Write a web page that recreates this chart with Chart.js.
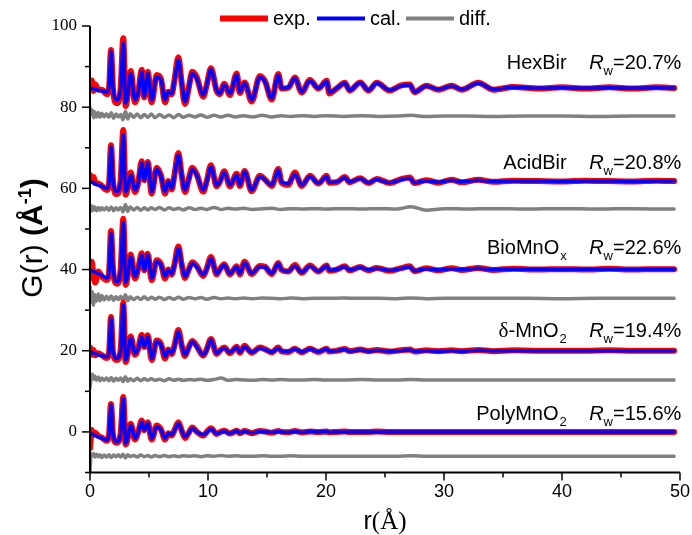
<!DOCTYPE html>
<html>
<head>
<meta charset="utf-8">
<title>PDF fits</title>
<script src="https://cdn.jsdelivr.net/npm/chart.js@4.4.1/dist/chart.umd.min.js"></script>
<style>
  body { margin: 0; background: #fff; }
  #pdfChart { display: block; }
</style>
</head>
<body>
<canvas id="pdfChart" width="692" height="535"></canvas>
<script>
// r grid (Å) shared by exp. and cal. curves
const rFit = [0, 0.15, 0.3, 0.45, 0.7, 1.0, 1.41, 1.62, 1.78, 1.95,
    2.26, 2.6, 2.82, 3.02, 3.22, 3.45, 3.81, 4.1, 4.38, 4.6,
    4.89, 5.23, 5.65, 6.02, 6.36, 6.64, 6.92, 7.15, 7.49, 7.75,
    8.05, 8.35, 8.67, 9.04, 9.6, 9.9, 10.25, 10.73, 11.0, 11.38,
    11.86, 12.43, 12.7, 13.1, 13.7, 14.4, 14.83, 15.4, 15.96, 16.24,
    16.8, 17.37, 17.94, 18.64, 19.35, 20.06, 20.28, 20.9, 21.6, 22.0,
    22.9, 23.6, 24.3, 25.4, 26.3, 27.1, 27.5, 28.5, 29.5, 30.65,
    31.5, 32.9, 34.2, 35.9, 38, 40, 42, 44, 46, 48,
    49.5];

// r grid (Å) shared by the difference curves
const rDiff = [0, 0.1, 0.2, 0.3, 0.4, 0.55, 0.7, 0.85, 1.0, 1.2,
    1.4, 1.6, 1.8, 2.0, 2.2, 2.4, 2.6, 2.8, 3.0, 3.2,
    3.4, 3.7, 4.0, 4.3, 4.6, 4.9, 5.2, 5.5, 5.9, 6.3,
    6.7, 7.1, 7.5, 7.9, 8.4, 8.9, 9.4, 9.9, 10.5, 11.1,
    11.7, 12.3, 13, 13.8, 14.6, 15.4, 16.2, 17.0, 18, 19,
    20, 21.5, 23, 24.5, 26, 27.2, 28.5, 30, 32, 34,
    37, 40, 43, 46, 49.5];

// HexBir (plotted with offset)
const hexExp = [85.6, 86.6, 84.0, 85.6, 84.3, 84.3, 83.2, 85.0, 94.1, 84.5,
    81.0, 84.8, 97.0, 80.3, 83.5, 88.9, 81.2, 83.8, 89.2, 82.4,
    88.7, 81.2, 87.9, 86.9, 81.2, 83.8, 83.2, 86.5, 92.3, 86.5,
    80.8, 84.5, 88.7, 87.4, 82.6, 85.6, 89.6, 84.0, 83.2, 85.8,
    83.0, 88.3, 83.5, 86.1, 81.4, 87.7, 86.4, 81.9, 88.2, 84.6,
    84.8, 87.3, 83.6, 86.7, 84.6, 86.5, 83.4, 84.6, 86.0, 84.1,
    86.1, 84.1, 86.0, 84.1, 85.3, 85.6, 83.7, 85.3, 84.3, 85.3,
    84.3, 86.0, 84.3, 85.0, 84.6, 84.9, 84.6, 84.9, 84.6, 84.9,
    84.7];
const hexCal = [84.7, 84.6, 84.5, 84.4, 84.2, 84.0, 83.7, 85.2, 93.7, 85.0,
    81.8, 84.6, 95.7, 81.0, 83.5, 88.3, 81.8, 83.8, 88.7, 82.6,
    88.3, 81.8, 87.5, 86.7, 81.8, 83.8, 83.4, 86.3, 91.6, 86.5,
    81.4, 84.5, 88.3, 87.1, 83.0, 85.5, 89.3, 84.2, 83.4, 85.5,
    83.4, 87.9, 83.8, 85.9, 81.8, 87.4, 86.3, 82.2, 87.9, 84.7,
    84.9, 87.1, 83.8, 86.5, 84.7, 86.3, 83.6, 84.7, 85.9, 84.2,
    86.0, 84.2, 85.9, 84.2, 85.2, 85.5, 83.8, 85.2, 84.4, 85.2,
    84.4, 85.9, 84.4, 84.9, 84.7, 84.8, 84.7, 84.8, 84.7, 84.8,
    84.7];
const hexDiff = [79.9, 78.2, 79.3, 77.4, 78.9, 77.6, 78.7, 77.5, 78.5, 77.6,
    78.4, 77.5, 78.6, 77.3, 78.3, 77.6, 78.2, 76.9, 79.0, 77.1,
    78.4, 77.5, 78.3, 77.4, 78.2, 77.5, 78.3, 77.4, 78.2, 77.5,
    78.1, 77.4, 78.2, 77.5, 78.0, 77.6, 78.1, 77.5, 78.0, 77.6,
    78.0, 77.6, 77.9, 77.6, 78.0, 77.6, 77.9, 77.7, 77.9, 77.7,
    77.9, 77.7, 77.9, 77.7, 77.8, 78.0, 77.7, 77.8, 77.8, 77.7,
    77.8, 77.8, 77.7, 77.8, 77.8];

// AcidBir
const acidExp = [63.3, 62.0, 62.8, 61.3, 61.2, 60.6, 59.6, 61.3, 70.6, 61.6,
    58.6, 62.1, 74.4, 58.4, 60.4, 63.9, 59.1, 61.6, 66.7, 62.0,
    66.5, 58.7, 65.1, 63.1, 58.7, 61.8, 59.7, 63.2, 68.7, 63.6,
    59.1, 62.1, 65.1, 63.5, 59.2, 61.9, 65.7, 60.5, 61.6, 64.2,
    60.5, 63.6, 60.6, 64.3, 59.3, 63.1, 62.2, 60.6, 64.8, 61.4,
    60.9, 63.9, 60.6, 63.1, 61.2, 63.1, 61.4, 61.5, 62.8, 61.5,
    62.5, 61.3, 62.3, 61.3, 62.2, 62.7, 61.3, 62.0, 61.4, 62.1,
    61.5, 62.1, 61.6, 61.9, 61.8, 61.7, 61.9, 61.8, 61.7, 61.9,
    61.8];
const acidCal = [61.7, 61.5, 61.3, 61.1, 60.8, 60.5, 60.0, 61.6, 70.3, 62.0,
    59.2, 62.0, 73.2, 59.2, 60.5, 63.3, 59.6, 61.5, 66.2, 62.1,
    66.2, 59.2, 64.7, 62.9, 59.2, 61.7, 60.0, 63.0, 68.2, 63.5,
    59.6, 62.0, 64.7, 63.3, 59.6, 61.8, 65.3, 60.8, 61.6, 63.9,
    60.8, 63.3, 60.8, 64.1, 59.6, 62.9, 62.1, 60.8, 64.5, 61.5,
    61.2, 63.5, 60.8, 62.9, 61.3, 62.9, 61.5, 61.6, 62.6, 61.6,
    62.4, 61.4, 62.2, 61.4, 62.1, 62.5, 61.4, 61.9, 61.5, 62.0,
    61.6, 62.0, 61.7, 61.8, 61.8, 61.7, 61.8, 61.8, 61.7, 61.8,
    61.8];
const acidDiff = [55.8, 54.4, 55.6, 54.6, 55.4, 54.5, 55.3, 54.6, 55.2, 54.7,
    55.3, 54.6, 55.4, 54.5, 55.2, 54.7, 55.3, 54.2, 56.0, 54.3,
    55.4, 54.7, 55.3, 54.6, 55.2, 54.7, 55.2, 54.8, 55.3, 54.7,
    55.2, 54.8, 55.1, 54.7, 55.2, 54.8, 55.1, 54.8, 55.3, 54.8,
    55.1, 54.9, 55.1, 54.8, 55.0, 55.1, 54.8, 55.0, 54.9, 55.0,
    54.9, 55.0, 54.9, 55.0, 54.9, 55.5, 54.6, 55.0, 54.9, 55.0,
    54.9, 55.0, 54.9, 55.0, 54.9];

// BioMnOx
const bioExp = [40.8, 41.9, 38.0, 36.8, 39.5, 38.3, 37.4, 39.5, 49.5, 40.2,
    36.5, 40.1, 52.5, 36.2, 38.9, 43.7, 37.8, 40.4, 44.0, 39.8,
    43.9, 37.4, 42.3, 41.3, 37.8, 40.0, 38.8, 41.2, 45.7, 41.6,
    37.9, 39.9, 41.8, 40.9, 38.4, 40.3, 43.1, 38.8, 40.0, 41.3,
    38.8, 40.8, 38.8, 41.9, 38.9, 40.9, 40.7, 38.9, 41.6, 39.9,
    39.5, 41.1, 39.2, 41.0, 39.5, 41.0, 39.7, 40.0, 40.8, 39.8,
    40.6, 39.8, 40.4, 39.7, 40.3, 40.8, 39.6, 40.3, 39.8, 40.3,
    39.9, 40.4, 39.9, 40.2, 40.0, 40.1, 40.0, 40.2, 40.0, 40.1,
    40.1];
const bioCal = [39.9, 39.7, 39.5, 39.3, 39.0, 38.6, 37.9, 39.8, 49.0, 40.5,
    37.0, 40.0, 51.5, 36.8, 39.0, 43.2, 38.3, 40.3, 43.6, 39.9,
    43.6, 37.9, 41.9, 41.1, 38.3, 39.9, 39.0, 41.0, 45.2, 41.5,
    38.3, 39.8, 41.5, 40.7, 38.7, 40.2, 42.8, 39.0, 39.9, 41.1,
    39.0, 40.6, 39.0, 41.7, 39.1, 40.7, 40.6, 39.1, 41.4, 40.0,
    39.6, 40.9, 39.3, 40.8, 39.6, 40.9, 39.8, 40.0, 40.7, 39.9,
    40.5, 39.9, 40.3, 39.8, 40.2, 40.6, 39.7, 40.2, 39.9, 40.2,
    40.0, 40.3, 40.0, 40.1, 40.1, 40.0, 40.1, 40.1, 40.0, 40.1,
    40.1];
const bioDiff = [35.8, 32.0, 34.5, 31.2, 33.8, 32.2, 34.0, 32.3, 33.6, 32.5,
    33.4, 32.6, 33.5, 32.4, 33.3, 32.6, 33.4, 32.2, 33.8, 32.3,
    33.3, 32.6, 33.2, 32.6, 33.3, 32.6, 33.2, 32.7, 33.2, 32.6,
    33.1, 32.7, 33.2, 32.7, 33.1, 32.8, 33.1, 32.7, 33.1, 32.8,
    33.0, 32.8, 33.0, 32.8, 33.0, 32.9, 32.8, 33.0, 32.8, 32.9,
    32.9, 33.0, 32.9, 32.9, 32.8, 33.0, 32.8, 32.9, 32.9, 32.9,
    32.9, 32.8, 32.9, 32.9, 32.9];

// δ-MnO2
const deltaExp = [20.8, 19.0, 20.2, 18.9, 19.4, 18.9, 18.2, 19.7, 28.3, 19.5,
    17.7, 20.3, 31.8, 17.2, 19.5, 23.5, 19.0, 20.7, 23.9, 20.9,
    23.8, 17.7, 22.5, 21.6, 18.1, 20.3, 19.2, 21.2, 25.1, 21.6,
    18.7, 20.7, 22.4, 21.2, 18.8, 20.4, 22.9, 19.2, 20.0, 20.8,
    19.4, 21.0, 19.5, 21.2, 19.5, 20.8, 20.4, 19.6, 20.8, 19.8,
    19.7, 20.5, 19.6, 20.5, 19.7, 20.5, 19.8, 20.0, 20.4, 19.9,
    20.3, 19.9, 20.2, 19.8, 20.1, 20.3, 19.8, 20.1, 19.9, 20.1,
    19.9, 20.2, 19.9, 20.1, 20.0, 20.0, 20.0, 20.1, 20.0, 20.0,
    20.0];
const deltaCal = [19.8, 19.6, 19.4, 19.2, 19.0, 18.8, 18.5, 19.9, 28.0, 19.8,
    18.1, 20.2, 31.3, 17.7, 19.6, 23.1, 19.4, 20.6, 23.5, 21.0,
    23.5, 18.1, 22.2, 21.4, 18.5, 20.2, 19.4, 21.0, 24.7, 21.5,
    19.0, 20.6, 22.2, 21.0, 19.0, 20.3, 22.7, 19.4, 20.0, 20.6,
    19.6, 20.8, 19.7, 21.0, 19.6, 20.6, 20.3, 19.7, 20.6, 19.9,
    19.8, 20.4, 19.7, 20.4, 19.8, 20.4, 19.9, 20.0, 20.3, 19.9,
    20.2, 19.9, 20.1, 19.9, 20.0, 20.2, 19.9, 20.0, 19.9, 20.0,
    19.9, 20.1, 20.0, 20.0, 20.0, 20.0, 20.0, 20.0, 20.0, 20.0,
    20.0];
const deltaDiff = [10.8, 13.6, 14.2, 13.0, 13.8, 12.7, 13.5, 12.6, 13.3, 12.7,
    13.3, 12.6, 13.4, 12.5, 13.2, 12.7, 13.3, 12.4, 13.6, 12.5,
    13.1, 12.6, 13.2, 12.6, 13.1, 12.7, 13.1, 12.7, 13.0, 12.6,
    13.1, 12.7, 13.0, 12.7, 12.9, 12.8, 13.0, 12.7, 12.9, 13.3,
    12.7, 12.9, 12.8, 12.7, 12.9, 12.8, 12.9, 12.8, 12.8, 12.9,
    12.8, 12.8, 12.9, 12.8, 12.8, 12.9, 12.8, 12.8, 12.8, 12.8,
    12.8, 12.8, 12.8, 12.8, 12.8];

// PolyMnO2
const polyExp = [-4.0, 0.5, -0.8, -0.2, -1.0, -1.4, -2.2, -0.4, 6.9, -0.8,
    -2.7, -0.3, 8.6, -3.1, -1.3, 2.0, -1.9, 0.1, 2.8, 0.4,
    2.4, -1.9, 1.6, 0.6, -1.9, -0.3, -0.9, 0.4, 2.4, 0.5,
    -1.5, -0.3, 1.1, 0.1, -0.9, 0.0, 0.9, -0.5, -0.1, 0.3,
    -0.4, 0.3, -0.3, 0.2, -0.3, 0.2, 0.1, -0.2, 0.2, 0.0,
    -0.1, 0.2, -0.1, 0.1, 0.0, 0.1, -0.1, 0.0, 0.1, 0.0,
    0.0, 0.0, 0.1, 0.0, 0.0, 0.0, 0.0, 0.0, 0.0, 0.0,
    0.0, 0.0, 0.0, 0.0, 0.0, 0.0, 0.0, 0.0, 0.0, 0.0,
    0.0];
const polyCal = [-0.3, -0.5, -0.7, -0.9, -1.2, -1.5, -2.0, -0.2, 6.7, -0.5,
    -2.4, -0.3, 8.3, -2.8, -1.2, 1.7, -1.6, 0.0, 2.5, 0.5,
    2.1, -1.6, 1.3, 0.5, -1.6, -0.4, -0.7, 0.3, 2.1, 0.4,
    -1.2, -0.3, 0.9, 0.0, -0.7, -0.1, 0.7, -0.4, -0.2, 0.1,
    -0.3, 0.2, -0.2, 0.1, -0.2, 0.1, 0.0, -0.1, 0.1, 0.0,
    -0.1, 0.1, -0.1, 0.1, 0.0, 0.1, -0.1, 0.0, 0.0, 0.0,
    0.0, 0.0, 0.0, 0.0, 0.0, 0.0, 0.0, 0.0, 0.0, 0.0,
    0.0, 0.0, 0.0, 0.0, 0.0, 0.0, 0.0, 0.0, 0.0, 0.0,
    0.0];
const polyDiff = [-9.8, -5.4, -5.9, -5.3, -6.2, -5.5, -6.1, -5.6, -6.3, -5.7,
    -6.2, -5.6, -6.3, -5.7, -6.1, -5.6, -6.2, -5.5, -6.4, -5.6,
    -6.1, -5.8, -6.2, -5.7, -6.1, -5.8, -6.2, -5.8, -6.1, -5.8,
    -6.1, -5.9, -6.1, -5.9, -6.0, -5.9, -6.1, -5.9, -6.0, -5.8,
    -6.0, -5.9, -6.0, -6.0, -5.9, -6.0, -6.0, -5.9, -6.0, -6.0,
    -6.0, -6.0, -6.0, -6.0, -6.0, -5.9, -6.0, -6.0, -6.0, -6.0,
    -6.0, -6.0, -6.0, -6.0, -6.0];

// sample names, subscripts and fit quality
const sampleNames = ['HexBir', 'AcidBir', 'BioMnO', 'δ-MnO', 'PolyMnO'];
const sampleSubs = ['', '', 'x', '2', '2'];
const rwValues = ['20.7', '20.8', '22.6', '19.4', '15.6'];

const xTicks = [0, 10, 20, 30, 40, 50];
const yTicks = [0, 20, 40, 60, 80, 100];

const COLORS = {
    exp: 'rgb(255, 0, 0)',
    cal: 'rgb(0, 0, 255)',
    diff: 'rgb(128, 128, 128)',
};

const SANS = '"Liberation Sans", Arial, sans-serif';
const SERIF = '"Liberation Serif", "Times New Roman", serif';

function toPoints(rs, gs) {
    return rs.map((r, i) => ({x: r, y: gs[i]}));
}

const sampleSets = [
    [hexExp, hexCal, hexDiff],
    [acidExp, acidCal, acidDiff],
    [bioExp, bioCal, bioDiff],
    [deltaExp, deltaCal, deltaDiff],
    [polyExp, polyCal, polyDiff],
];

const datasets = [];
sampleSets.forEach((set, i) => {
    datasets.push({
        label: 'exp. ' + sampleNames[i],
        data: toPoints(rFit, set[0]),
        borderColor: COLORS.exp,
        borderWidth: 6,
        order: 2,
    });
    datasets.push({
        label: 'cal. ' + sampleNames[i],
        data: toPoints(rFit, set[1]),
        borderColor: COLORS.cal,
        borderWidth: 3.5,
        order: 1,
    });
    datasets.push({
        label: 'diff. ' + sampleNames[i],
        data: toPoints(rDiff, set[2]),
        borderColor: COLORS.diff,
        borderWidth: 3.5,
        order: 3,
    });
});

// axes, ticks, legend and text labels
const decorPlugin = {
    id: 'decor',
    afterDraw(chart) {
        const ctx = chart.ctx;
        const xs = chart.scales.x;
        const ys = chart.scales.y;
        const area = chart.chartArea;
        ctx.save();

        // axis lines
        ctx.strokeStyle = '#000';
        ctx.lineWidth = 2;
        ctx.beginPath();
        ctx.moveTo(area.left, ys.getPixelForValue(100));
        ctx.lineTo(area.left, area.bottom);
        ctx.lineTo(area.right, area.bottom);
        ctx.stroke();

        // tick marks, major and minor
        ctx.lineWidth = 1.5;
        for (let v = 0; v <= 50; v += 5) {
            const px = xs.getPixelForValue(v);
            const len = v % 10 === 0 ? 8 : 5;
            ctx.beginPath();
            ctx.moveTo(px, area.bottom);
            ctx.lineTo(px, area.bottom + len);
            ctx.stroke();
        }
        for (let v = -10; v <= 100; v += 10) {
            const py = ys.getPixelForValue(v);
            const len = v % 20 === 0 ? 8 : 5;
            ctx.beginPath();
            ctx.moveTo(area.left, py);
            ctx.lineTo(area.left - len, py);
            ctx.stroke();
        }

        // legend
        const legend = [
            ['exp.', COLORS.exp, 6, 220],
            ['cal.', COLORS.cal, 4, 317],
            ['diff.', COLORS.diff, 4, 406],
        ];
        ctx.font = '20px ' + SANS;
        ctx.textBaseline = 'middle';
        ctx.textAlign = 'left';
        legend.forEach(([txt, col, w, x0]) => {
            ctx.strokeStyle = col;
            ctx.lineWidth = w;
            ctx.lineCap = 'butt';
            ctx.beginPath();
            ctx.moveTo(x0, 18.5);
            ctx.lineTo(x0 + 48, 18.5);
            ctx.stroke();
            ctx.fillStyle = '#000';
            ctx.fillText(txt, x0 + 53, 19.5);
        });

        // sample labels and Rw
        ctx.textBaseline = 'alphabetic';
        const labelLevel = [91.2, 66.6, 45.6, 25.1, 4.6];
        const nameRight = xs.getPixelForValue(40.4);
        const rwLeft = xs.getPixelForValue(42.3);
        sampleNames.forEach((name, i) => {
            const base = ys.getPixelForValue(labelLevel[i]) + 7;
            ctx.fillStyle = '#000';
            const sub = sampleSubs[i];
            ctx.font = '13px ' + SANS;
            const subW = sub ? ctx.measureText(sub).width + 1 : 0;
            let x = nameRight - subW;
            if (name.startsWith('δ')) {
                ctx.font = '21px ' + SERIF;
                const dW = ctx.measureText('δ').width;
                ctx.font = '20px ' + SANS;
                const restW = ctx.measureText(name.slice(1)).width;
                x -= dW + restW;
                ctx.font = '21px ' + SERIF;
                ctx.textAlign = 'left';
                ctx.fillText('δ', x, base);
                ctx.font = '20px ' + SANS;
                ctx.fillText(name.slice(1), x + dW, base);
            } else {
                ctx.font = '20px ' + SANS;
                ctx.textAlign = 'right';
                ctx.fillText(name, x, base);
            }
            if (sub) {
                ctx.font = '13px ' + SANS;
                ctx.textAlign = 'left';
                ctx.fillText(sub, nameRight - subW + 1, base + 6);
            }
            ctx.textAlign = 'left';
            ctx.font = 'italic 20px ' + SANS;
            ctx.fillText('R', rwLeft, base);
            let rx = rwLeft + ctx.measureText('R').width;
            ctx.font = '13px ' + SANS;
            ctx.fillText('w', rx, base + 6);
            rx += ctx.measureText('w').width;
            ctx.font = '20px ' + SANS;
            ctx.fillText('=' + rwValues[i] + '%', rx, base);
        });

        // y axis title, rotated
        ctx.save();
        ctx.translate(31, 238);
        ctx.rotate(-Math.PI / 2);
        const parts = [
            ['G(r) ', '30px ' + SANS, 0],
            ['(Å', 'bold 30px ' + SANS, 0],
            ['-1', 'bold 18px ' + SANS, -11],
            [')', 'bold 30px ' + SANS, 0],
        ];
        let total = 0;
        parts.forEach(p => { ctx.font = p[1]; total += ctx.measureText(p[0]).width; });
        let px = -total / 2;
        ctx.textAlign = 'left';
        ctx.fillStyle = '#000';
        parts.forEach(p => {
            ctx.font = p[1];
            ctx.fillText(p[0], px, 11 + p[2]);
            px += ctx.measureText(p[0]).width;
        });
        ctx.restore();

        // x axis title
        ctx.font = '25px ' + SANS;
        const rW = ctx.measureText('r').width;
        ctx.font = '25px ' + SERIF;
        const aW = ctx.measureText('(Å)').width;
        const cx = (area.left + area.right) / 2;
        let tx = cx - (rW + aW) / 2;
        ctx.textAlign = 'left';
        ctx.font = '25px ' + SANS;
        ctx.fillText('r', tx, 529);
        ctx.font = '25px ' + SERIF;
        ctx.fillText('(Å)', tx + rW, 529);

        ctx.restore();
    }
};

const chart = new Chart(document.getElementById('pdfChart'), {
    type: 'line',
    data: {datasets: datasets},
    options: {
        responsive: false,
        animation: false,
        devicePixelRatio: 1,
        layout: {padding: {left: 0, right: 12, top: 26, bottom: 0}},
        elements: {
            point: {radius: 0, hoverRadius: 0},
            line: {
                tension: 0.4,
                cubicInterpolationMode: 'monotone',
                borderJoinStyle: 'round',
                borderCapStyle: 'round',
                fill: false,
            },
        },
        plugins: {
            legend: {display: false},
            tooltip: {enabled: false},
            title: {display: false},
        },
        scales: {
            x: {
                type: 'linear',
                min: 0,
                max: 50,
                afterFit: (scale) => { scale.height = 62.5; },
                afterBuildTicks: (scale) => { scale.ticks = xTicks.map(v => ({value: v})); },
                ticks: {
                    autoSkip: false,
                    maxRotation: 0,
                    padding: 1,
                    color: '#000',
                    font: {family: SANS, size: 18},
                },
                grid: {display: false, drawTicks: true, tickLength: 8},
                border: {display: false},
            },
            y: {
                type: 'linear',
                min: -10,
                max: 100,
                afterFit: (scale) => { scale.width = 90; },
                afterBuildTicks: (scale) => { scale.ticks = yTicks.map(v => ({value: v})); },
                ticks: {
                    padding: 5,
                    color: '#000',
                    font: {family: SERIF, size: 17},
                },
                grid: {display: false, drawTicks: true, tickLength: 8},
                border: {display: false},
            },
        },
    },
    plugins: [decorPlugin],
});
</script>
</body>
</html>
